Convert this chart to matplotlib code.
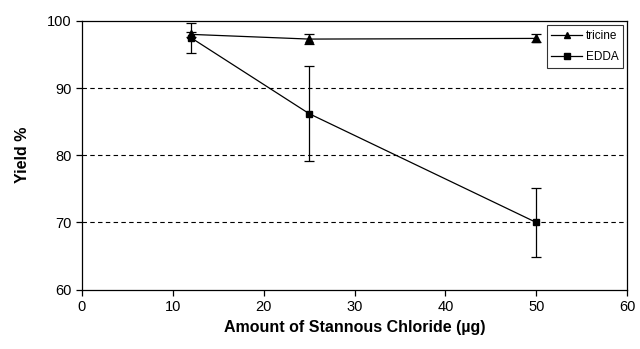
import matplotlib.pyplot as plt

plt.rcParams['font.family'] = ['Liberation Sans', 'DejaVu Sans']

# data
amount = [12, 25, 50]
tricine = [98.0, 97.3, 97.4]
tricine_err = [0.4, 0.7, 0.6]
edda = [97.5, 86.2, 70.0]
edda_err = [2.2, 7.1, 5.2]

fig, ax = plt.subplots(figsize=(6.4, 3.49), dpi=100)
fig.subplots_adjust(left=0.128, right=0.98, top=0.94, bottom=0.17)

for y in [70, 80, 90]:
    ax.axhline(y, color="black", linestyle=(0, (4, 3)), linewidth=0.8, zorder=0)

c1 = ax.errorbar(amount, tricine, yerr=tricine_err, color="black", marker="^", markersize=5.5,
                 linewidth=0.9, elinewidth=0.9, capsize=3.5, capthick=0.9, label="tricine")
c2 = ax.errorbar(amount, edda, yerr=edda_err, color="black", marker="s", markersize=5,
                 linewidth=0.9, elinewidth=0.9, capsize=3.5, capthick=0.9, label="EDDA")

ax.set_xlim(0, 60)
ax.set_ylim(60, 100)
ax.set_xticks(range(0, 61, 10))
ax.set_yticks(range(60, 101, 10))
ax.tick_params(direction="out", length=4, labelsize=10.5, width=0.9)
for s in ax.spines.values():
    s.set_linewidth(0.9)

ax.set_xlabel("Amount of Stannous Chloride (µg)", fontsize=11.5, fontweight="bold")
ax.set_ylabel("Yield %", fontsize=11.5, fontweight="bold", labelpad=12)

leg = ax.legend(handles=[c1[0], c2[0]], labels=["tricine", "EDDA"], loc="upper right",
                fontsize=8.5, frameon=True, fancybox=False, edgecolor="black",
                handlelength=2.6, borderaxespad=0.35, handletextpad=0.3,
                labelspacing=0.8, borderpad=0.4)
leg.get_frame().set_linewidth(0.8)
for h in leg.legend_handles:
    h.set_markersize(4.5)

fig.savefig("out.png", dpi=100)
